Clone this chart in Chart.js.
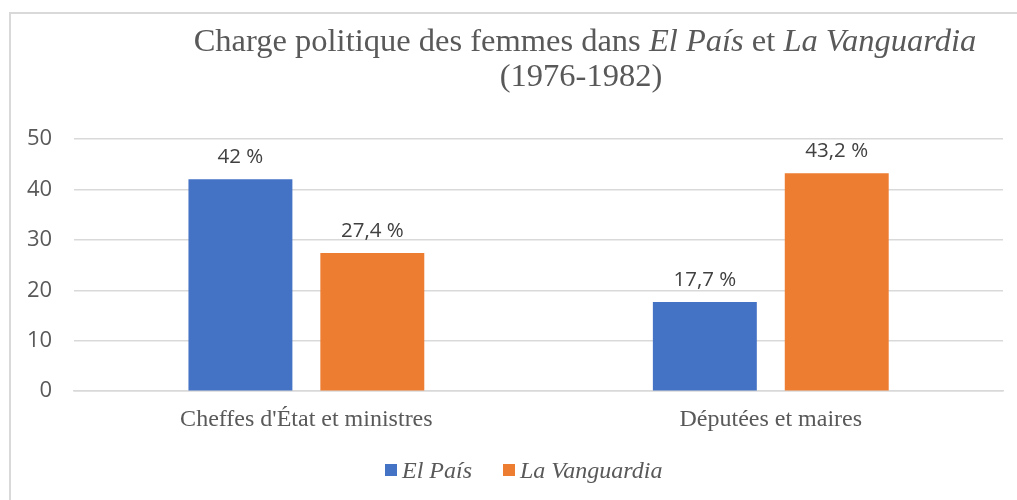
<!DOCTYPE html>
<html>
<head>
<meta charset="utf-8">
<script src="https://cdn.jsdelivr.net/npm/chart.js@4.4.1/dist/chart.umd.min.js"></script>
<style>
  html, body { margin: 0; padding: 0; background: #fff; overflow: hidden; }
  #wrap { position: relative; width: 1017px; height: 500px; }
  #frame {
    position: absolute; left: 9px; top: 12px;
    width: 1100px; height: 600px;
    border: 2px solid #d9d9d9; box-sizing: border-box;
  }
  canvas { position: absolute; left: 0; top: 0; }
</style>
</head>
<body>
<div id="wrap">
  <div id="frame"></div>
  <canvas id="chart" width="1017" height="500"></canvas>
</div>
<script>
// Données
const categories = ["Cheffes d'État et ministres", 'Députées et maires'];
const seriesNames = ['El País', 'La Vanguardia'];
const elPais = [42, 17.7];
const laVanguardia = [27.4, 43.2];
const yTicks = [0, 10, 20, 30, 40, 50];

const COLORS = {
  blue:   '#4472C4',
  orange: '#ED7D31',
  grid:   '#d9d9d9',
  text:   '#595959',
  label:  '#404040',
};

const SERIF = "'Liberation Serif', 'Times New Roman', serif";
const SANS  = "'Open Sans', sans-serif";

// Titre avec parties en italique
const titleParts = [
  { text: 'Charge politique des femmes dans ', italic: false },
  { text: 'El País', italic: true },
  { text: ' et ', italic: false },
  { text: 'La Vanguardia', italic: true },
];
const titleLine2 = '(1976-1982)';

const titlePlugin = {
  id: 'mixedTitle',
  afterDraw(chart) {
    const c = chart.ctx;
    const size = 32.5;
    const cx = 585;
    c.save();
    c.fillStyle = COLORS.text;
    c.textBaseline = 'alphabetic';
    let total = 0;
    titleParts.forEach(p => {
      c.font = `${p.italic ? 'italic ' : ''}${size}px ${SERIF}`;
      total += c.measureText(p.text).width;
    });
    let x = cx - total / 2;
    c.textAlign = 'left';
    titleParts.forEach(p => {
      c.font = `${p.italic ? 'italic ' : ''}${size}px ${SERIF}`;
      c.fillText(p.text, x, 51);
      x += c.measureText(p.text).width;
    });
    c.font = `${size}px ${SERIF}`;
    c.textAlign = 'center';
    c.fillText(titleLine2, cx - 4, 86);
    c.restore();
  }
};

// Étiquettes de valeur au-dessus des barres
const valueLabels = {
  id: 'valueLabels',
  afterDatasetsDraw(chart) {
    const c = chart.ctx;
    c.save();
    c.font = `20.5px ${SANS}`;
    c.fillStyle = COLORS.label;
    c.textAlign = 'center';
    c.textBaseline = 'bottom';
    chart.data.datasets.forEach((ds, i) => {
      chart.getDatasetMeta(i).data.forEach((bar, j) => {
        const txt = String(ds.data[j]).replace('.', ',') + ' %';
        c.fillText(txt, bar.x, bar.y - 12);
      });
    });
    c.restore();
  }
};

// Légende dessinée à la main (carré + nom en italique)
const legendX = [385, 503];
const customLegend = {
  id: 'customLegend',
  afterDraw(chart) {
    const c = chart.ctx;
    c.save();
    c.font = `italic 24px ${SERIF}`;
    c.textAlign = 'left';
    c.textBaseline = 'alphabetic';
    chart.data.datasets.forEach((ds, i) => {
      c.fillStyle = ds.backgroundColor;
      c.fillRect(legendX[i], 464, 12, 12);
      c.fillStyle = COLORS.text;
      c.fillText(ds.label, legendX[i] + 17, 478);
    });
    c.restore();
  }
};

new Chart(document.getElementById('chart'), {
  type: 'bar',
  data: {
    labels: categories,
    datasets: [
      { label: seriesNames[0], data: elPais, backgroundColor: COLORS.blue },
      { label: seriesNames[1], data: laVanguardia, backgroundColor: COLORS.orange },
    ]
  },
  options: {
    responsive: false,
    animation: false,
    devicePixelRatio: 1,
    layout: { padding: { top: 139, right: 14, bottom: 52, left: 5 } },
    datasets: { bar: { categoryPercentage: 0.568, barPercentage: 0.788 } },
    scales: {
      x: {
        grid: { display: false, drawTicks: false },
        border: { display: true, color: COLORS.grid, width: 1.5 },
        ticks: { color: COLORS.text, font: { family: SERIF, size: 24 }, padding: 14 },
      },
      y: {
        min: 0, max: 50,
        afterBuildTicks: axis => { axis.ticks = yTicks.map(v => ({ value: v })); },
        grid: { color: COLORS.grid, lineWidth: 1.5, drawTicks: false },
        border: { display: false },
        ticks: { color: COLORS.text, font: { family: SANS, size: 22 }, padding: 22 },
      }
    },
    plugins: {
      title: { display: false },
      tooltip: { enabled: false },
      legend: { display: false }
    }
  },
  plugins: [titlePlugin, valueLabels, customLegend]
});
</script>
</body>
</html>
